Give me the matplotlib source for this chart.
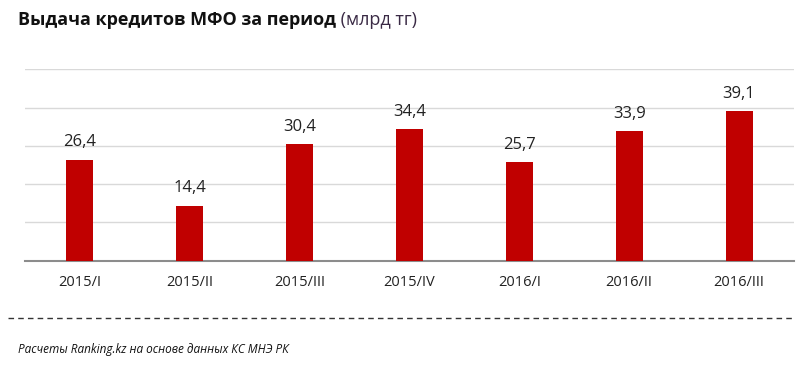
import matplotlib
matplotlib.use("Agg")
import matplotlib.pyplot as plt
from matplotlib.lines import Line2D

plt.rcParams['font.family'] = ['Open Sans', 'DejaVu Sans']

categories = ["2015/I", "2015/II", "2015/III", "2015/IV", "2016/I", "2016/II", "2016/III"]
values = [26.4, 14.4, 30.4, 34.4, 25.7, 33.9, 39.1]
value_labels = ["26,4", "14,4", "30,4", "34,4", "25,7", "33,9", "39,1"]
title_bold = "Выдача кредитов МФО за период"
title_unit = " (млрд тг)"
footer = "Расчеты Ranking.kz на основе данных КС МНЭ РК"

fig = plt.figure(figsize=(8, 3.75), dpi=100)
ax = fig.add_axes([0.031, 0.305, 0.9615, 0.51])

x = list(range(len(categories)))
ax.bar(x, values, width=0.245, color="#c00000", zorder=3)
for xi, v, lab in zip(x, values, value_labels):
    ax.text(xi, v + 2.4, lab, ha="center", va="bottom", fontsize=12, color="#222222")

ax.set_xlim(-0.5, len(categories) - 0.5)
ax.set_ylim(0, 50)
ax.set_yticks([10, 20, 30, 40, 50])
ax.yaxis.grid(True, color="#d9d9d9", linewidth=1)
ax.set_axisbelow(True)
ax.tick_params(axis="y", left=False, labelleft=False)
ax.tick_params(axis="x", length=0, pad=10, labelsize=10.5, labelcolor="#222222")
ax.set_xticks(x)
ax.set_xticklabels(categories)
for s in ["top", "right", "left"]:
    ax.spines[s].set_visible(False)
ax.spines["bottom"].set_color("#8c8c8c")
ax.spines["bottom"].set_linewidth(1.5)

t1 = fig.text(18 / 800, 1 - 20 / 375, title_bold, fontsize=13, fontweight="bold",
              color="#111111", ha="left", va="center")
fig.canvas.draw()
bb = t1.get_window_extent(renderer=fig.canvas.get_renderer())
x_end = bb.x1 / fig.bbox.width
fig.text(x_end, 1 - 20 / 375, title_unit, fontsize=13, color="#3a2a45",
         ha="left", va="center")

fig.add_artist(Line2D([8 / 800, 795 / 800], [1 - 318 / 375, 1 - 318 / 375],
                      transform=fig.transFigure, color="#333333", linewidth=1,
                      linestyle=(0, (4, 3))))
fig.text(18 / 800, 1 - 350 / 375, footer, fontsize=8.5, style="italic",
         color="#111111", ha="left", va="center")

fig.savefig("out.png", dpi=100)
